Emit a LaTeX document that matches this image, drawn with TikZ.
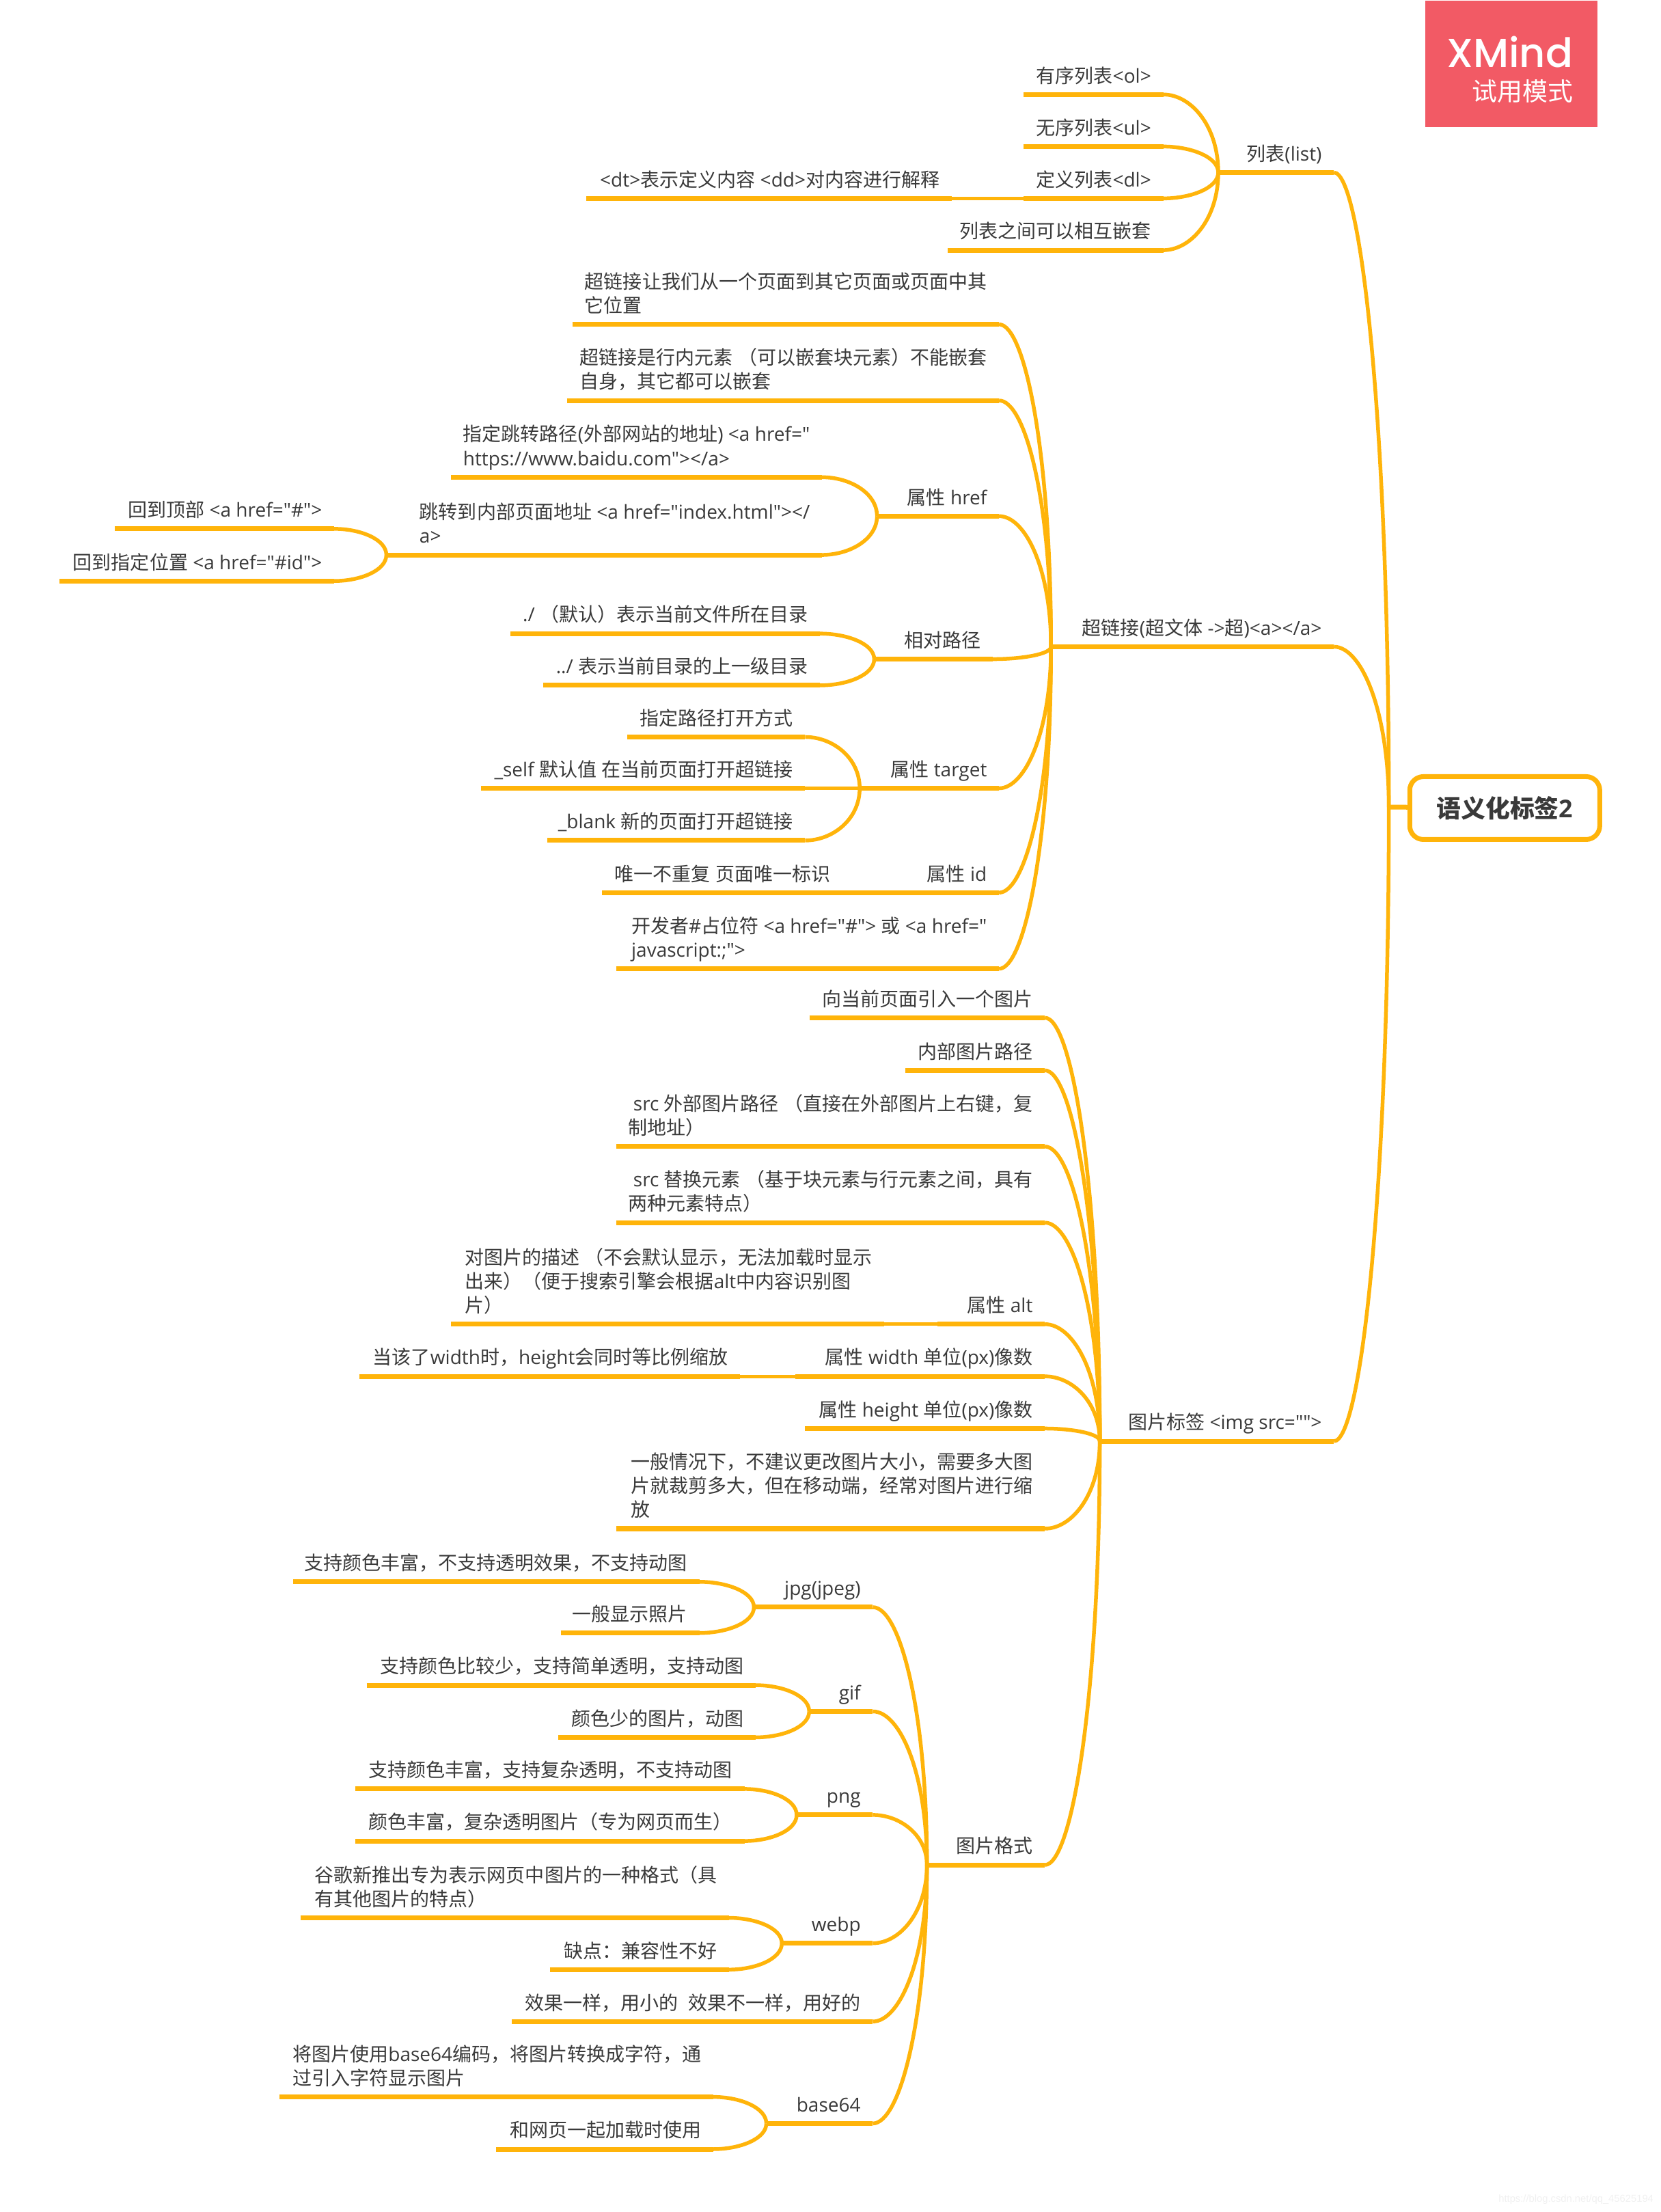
\documentclass[tikz,border=0pt]{standalone}
\usepackage{fontspec}
\usetikzlibrary{calc}
\setmainfont{Open Sans}
\newfontfamily\latinf{Open Sans}
\newfontfamily\cjk{Noto Sans CJK SC}
\newfontfamily\logofont{Poppins Medium}
\newfontfamily\markfont{Liberation Sans}

% CJK runs go to the CJK font by themselves
\XeTeXinterchartokenstate=1
\newXeTeXintercharclass\cjkclass
\newcount\cjkcode
\cjkcode="3000
\loop\ifnum\cjkcode<"A000 \XeTeXcharclass\cjkcode=\cjkclass \advance\cjkcode by 1 \repeat
\cjkcode="FF00
\loop\ifnum\cjkcode<"FFF0 \XeTeXcharclass\cjkcode=\cjkclass \advance\cjkcode by 1 \repeat
\XeTeXinterchartoks 0 \cjkclass={\cjk}
\XeTeXinterchartoks 4095 \cjkclass={\cjk}
\XeTeXinterchartoks \cjkclass 0={\latinf}
\XeTeXinterchartoks \cjkclass 4095={\latinf}

\definecolor{branchorange}{HTML}{FFB40A}
\definecolor{logored}{HTML}{F25A65}
\definecolor{topictext}{HTML}{3A3A3A}

\tikzset{
    topic/.style={anchor=south east, align=left, text=topictext, font=\latinf\fontsize{7.97}{10}\selectfont,
        inner xsep=0.17cm, inner ysep=2.7pt, text depth=2pt},
    topicline/.style={draw=branchorange, line width=0.07cm},
    branch/.style={draw=branchorange, line width=0.055cm},
    roottopic/.style={draw=branchorange, line width=0.07cm, rounded corners=0.2cm, fill=white,
        minimum width=2.78cm, minimum height=0.92cm, text=topictext, font=\latinf\fontsize{10.2}{12}\selectfont\bfseries}
}

\begin{document}
\begin{tikzpicture}[x=0.020637cm, y=-0.020637cm]
    \useasboundingbox (0,0) rectangle (1178,1568.6);

    % XMind badge
    \node[fill=logored, minimum width=2.52cm, minimum height=1.85cm, inner sep=0pt, anchor=north west] (logo) at (1010.4,0) {};
    \node[anchor=east, text=white, inner sep=0pt, font=\logofont\fontsize{16.8}{16}\selectfont] (logoname) at (1116,37) {XMind};
    \node[anchor=east, text=white, inner sep=0pt, font=\fontsize{10.5}{12}\selectfont] (logotrial) at (1116,64.6) {试用模式};

    % Root
    \node[roottopic] (root) at (1067.2,573) {语义化标签2};
    \coordinate (jroot) at (985,572.3);
    \draw[topicline] (jroot) -- (root);

    % Topics: name / left end of line / right end of line / line height / text
    \foreach \nm/\xl/\xr/\yl/\txt in {
        % List
        list/864/946/122.3/{列表(list)},
        l1/726/825/67/{有序列表<ol>},
        l2/726/825/103.9/{无序列表<ul>},
        l3/726/825/140.7/{定义列表<dl>},
        l31/416/675/140.7/{<dt>表示定义内容 <dd>对内容进行解释},
        l4/672/825/177.4/{列表之间可以相互嵌套},
        % Hyperlink
        link/745.4/946/458.6/{超链接(超文体 ->超)<a></a>},
        a1/406/708.5/230/{超链接让我们从一个页面到其它页面或页面中其\\它位置},
        a2/402/708.5/284/{超链接是行内元素 （可以嵌套块元素）不能嵌套\\自身，其它都可以嵌套},
        a3/622/708.5/366/{属性 href},
        a31/320/583/338.4/{指定跳转路径(外部网站的地址) <a href="\\https://www.baidu.com"></a>},
        a32/274/583/393.5/{跳转到内部页面地址 <a href="index.html"></\\a>},
        a321/81.6/237/375/{回到顶部 <a href="\#">},
        a322/42/237/412/{回到指定位置 <a href="\#id">},
        a4/620/704/467.4/{相对路径},
        a41/362/581.6/449.3/{./ （默认）表示当前文件所在目录},
        a42/385/581.6/486/{../ 表示当前目录的上一级目录},
        a5/609.7/708.5/559/{属性 target},
        a51/445/571/522.6/{指定路径打开方式},
        a52/341/571/559/{\_self 默认值 在当前页面打开超链接},
        a53/388/571/596/{\_blank 新的页面打开超链接},
        a6/597/708.5/633/{属性 id},
        a61/427/597.5/633/{唯一不重复 页面唯一标识},
        a7/437/708.5/687/{开发者\#占位符 <a href="\#"> 或 <a href="\\javascript:;">},
        % Image tag
        img/780/946/1022/{图片标签 <img src="">},
        i1/574/741/721.7/{向当前页面引入一个图片},
        i2/642/741/759/{内部图片路径},
        i3/437/741/813/{\ src 外部图片路径 （直接在外部图片上右键，复\\制地址）},
        i4/437/741/867/{\ src 替换元素 （基于块元素与行元素之间，具有\\两种元素特点）},
        i5/665/741/939/{属性 alt},
        i51/320/627/939/{对图片的描述 （不会默认显示，无法加载时显示\\出来）（便于搜索引擎会根据alt中内容识别图\\片）},
        i6/564/741/976/{属性 width 单位(px)像数},
        i61/255/525/976/{当该了width时，height会同时等比例缩放},
        i7/571/741/1013/{属性 height 单位(px)像数},
        i8/437/741/1084/{一般情况下，不建议更改图片大小，需要多大图\\片就裁剪多大，但在移动端，经常对图片进行缩\\放},
        % Image formats
        fmt/657.4/741/1322.5/{图片格式},
        f1/534.7/619/1139.7/{jpg(jpeg)},
        f11/208/496/1121.7/{支持颜色丰富，不支持透明效果，不支持动图},
        f12/398/496/1158/{一般显示照片},
        f2/573.9/619/1213.6/{gif},
        f21/260/536/1195/{支持颜色比较少，支持简单透明，支持动图},
        f22/396/536/1232/{颜色少的图片，动图},
        f3/565/619/1287/{png},
        f31/252/528/1268.6/{支持颜色丰富，支持复杂透明，不支持动图},
        f32/252/528/1305.5/{颜色丰富，复杂透明图片（专为网页而生）},
        f4/554.5/619/1378/{webp},
        f41/213/517/1360/{谷歌新推出专为表示网页中图片的一种格式（具\\有其他图片的特点）},
        f42/390/517/1396.7/{缺点：兼容性不好},
        f5/363/619/1433.5/{效果一样，用小的\ \ 效果不一样，用好的},
        f6/543.5/619/1505.8/{base64},
        f61/198/506/1487/{将图片使用base64编码，将图片转换成字符，通\\过引入字符显示图片},
        f62/352/506/1524/{和网页一起加载时使用}%
    } {
        \node[topic] (\nm) at (\xr,\yl) {\txt};
        \coordinate (j\nm) at (\xl,\yl);
        \draw[topicline] (j\nm) -- (\nm.south east);
    }

    % Curved connectors
    \foreach \from/\to in {root/list, root/link, root/img,
        list/l1, list/l2, list/l3, list/l4,
        link/a1, link/a2, link/a3, link/a4, link/a5, link/a6, link/a7,
        a3/a31, a3/a32, a32/a321, a32/a322, a4/a41, a4/a42, a5/a51, a5/a53,
        img/i1, img/i2, img/i3, img/i4, img/i5, img/i6, img/i7, img/i8, img/fmt,
        fmt/f1, fmt/f2, fmt/f3, fmt/f4, fmt/f5, fmt/f6,
        f1/f11, f1/f12, f2/f21, f2/f22, f3/f31, f3/f32, f4/f41, f4/f42, f6/f61, f6/f62} {
        \draw[branch] (j\from) .. controls ($(j\from)!0.6!(j\from |- \to.south east)$) and ($(\to.south east)!0.5!(j\from |- \to.south east)$) .. (\to.south east);
    }

    % Straight connectors, parent and child on one height
    \foreach \from/\to in {l3/l31, a5/a52, a6/a61, i5/i51, i6/i61} {
        \draw[topicline, line width=0.05cm] (j\from) -- (\to.south east);
    }

    % Source mark
    \node[anchor=east, text=black!6, inner sep=0pt, font=\markfont\fontsize{4.2}{5}\selectfont] (srcmark) at (1173,1559.5) {https://blog.csdn.net/qq\_45625194};
\end{tikzpicture}
\end{document}
